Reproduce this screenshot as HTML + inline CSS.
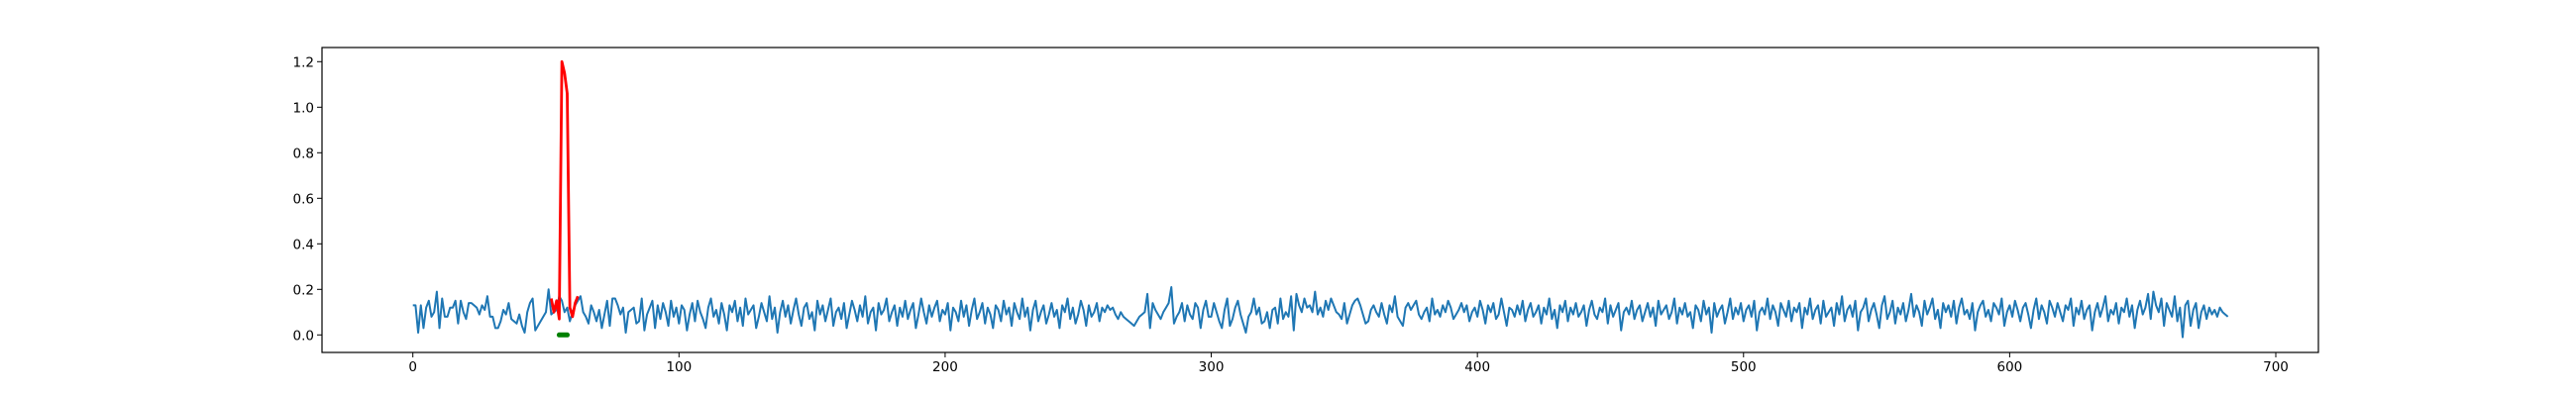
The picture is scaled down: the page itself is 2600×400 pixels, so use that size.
<!DOCTYPE html>
<html><head><meta charset="utf-8"><style>
html,body{margin:0;padding:0;background:#fff;}
svg{display:block;font-family:"DejaVu Sans","Liberation Sans",sans-serif;}
</style></head><body>
<svg id="chart" width="2600" height="400" xmlns="http://www.w3.org/2000/svg">
<rect x="0" y="0" width="2600" height="400" fill="#fff"/>
<g id="plot"></g>
<g id="axes"></g>
</svg>
<script>
const blueValues = [
0.13,0.13,0.01,0.13,0.03,0.12,0.15,0.08,0.10,0.19,0.03,0.16,0.08,0.08,0.12,0.12,0.15,0.05,0.15,0.10,
0.07,0.14,0.14,0.13,0.12,0.09,0.13,0.11,0.17,0.08,0.08,0.03,0.03,0.06,0.11,0.09,0.14,0.07,0.06,0.05,
0.09,0.04,0.01,0.10,0.14,0.16,0.02,0.04,0.06,0.08,0.10,0.20,0.09,0.10,0.11,0.17,0.15,0.10,0.12,0.06,
0.10,0.13,0.15,0.17,0.10,0.08,0.05,0.13,0.10,0.06,0.11,0.03,0.09,0.15,0.04,0.16,0.16,0.13,0.09,0.12,
0.01,0.10,0.11,0.12,0.05,0.06,0.16,0.02,0.09,0.12,0.15,0.03,0.13,0.07,0.14,0.10,0.04,0.15,0.08,0.12,
0.05,0.13,0.11,0.02,0.09,0.14,0.06,0.15,0.10,0.07,0.03,0.12,0.16,0.08,0.11,0.05,0.14,0.09,0.02,0.13,
0.10,0.15,0.06,0.12,0.04,0.16,0.09,0.11,0.13,0.03,0.08,0.14,0.10,0.06,0.17,0.07,0.12,0.01,0.10,0.15,
0.08,0.13,0.05,0.11,0.16,0.09,0.04,0.12,0.14,0.07,0.10,0.02,0.15,0.09,0.13,0.06,0.11,0.16,0.04,0.10,
0.12,0.07,0.14,0.03,0.09,0.15,0.11,0.06,0.13,0.08,0.17,0.05,0.10,0.12,0.02,0.14,0.09,0.11,0.16,0.06,
0.10,0.13,0.04,0.12,0.08,0.15,0.07,0.11,0.14,0.03,0.09,0.16,0.10,0.05,0.13,0.08,0.12,0.15,0.06,0.11,
0.09,0.14,0.02,0.12,0.10,0.06,0.15,0.08,0.13,0.04,0.11,0.16,0.07,0.10,0.14,0.05,0.12,0.09,0.03,0.13,
0.11,0.06,0.15,0.09,0.12,0.04,0.14,0.10,0.07,0.16,0.08,0.12,0.02,0.11,0.15,0.06,0.10,0.13,0.05,0.09,
0.14,0.08,0.11,0.03,0.13,0.10,0.16,0.07,0.12,0.05,0.09,0.15,0.11,0.04,0.13,0.08,0.10,0.14,0.06,0.12,
0.10,0.13,0.11,0.12,0.09,0.07,0.10,0.08,0.07,0.06,0.05,0.04,0.06,0.08,0.09,0.10,0.18,0.03,0.14,0.11,
0.09,0.07,0.10,0.12,0.14,0.21,0.05,0.08,0.10,0.14,0.06,0.13,0.09,0.07,0.14,0.12,0.03,0.11,0.15,0.08,
0.08,0.14,0.10,0.06,0.03,0.11,0.16,0.04,0.07,0.12,0.15,0.09,0.05,0.01,0.08,0.10,0.16,0.09,0.12,0.05,
0.06,0.10,0.03,0.11,0.12,0.05,0.16,0.07,0.10,0.08,0.17,0.02,0.18,0.13,0.10,0.16,0.12,0.13,0.10,0.19,
0.09,0.12,0.08,0.15,0.11,0.16,0.13,0.10,0.09,0.07,0.14,0.05,0.09,0.13,0.15,0.16,0.13,0.09,0.05,0.06,
0.11,0.13,0.10,0.08,0.14,0.09,0.05,0.13,0.10,0.17,0.08,0.06,0.04,0.12,0.14,0.11,0.13,0.15,0.09,0.07,
0.10,0.12,0.06,0.16,0.09,0.11,0.08,0.13,0.10,0.15,0.12,0.07,0.09,0.11,0.14,0.10,0.13,0.06,0.10,0.12,
0.08,0.15,0.11,0.05,0.13,0.10,0.14,0.07,0.09,0.16,0.10,0.04,0.12,0.11,0.08,0.13,0.09,0.15,0.06,0.11,
0.14,0.08,0.10,0.13,0.05,0.12,0.09,0.16,0.07,0.11,0.03,0.13,0.10,0.15,0.06,0.12,0.09,0.14,0.08,0.10,
0.13,0.04,0.11,0.15,0.09,0.07,0.12,0.10,0.16,0.05,0.13,0.08,0.11,0.14,0.02,0.10,0.12,0.09,0.15,0.07,
0.11,0.13,0.06,0.10,0.14,0.08,0.12,0.04,0.15,0.09,0.11,0.13,0.07,0.10,0.16,0.05,0.12,0.09,0.14,0.08,
0.10,0.03,0.13,0.11,0.06,0.15,0.09,0.12,0.01,0.14,0.08,0.11,0.13,0.05,0.10,0.16,0.07,0.12,0.09,0.14,
0.06,0.11,0.13,0.08,0.15,0.02,0.10,0.12,0.09,0.16,0.07,0.13,0.10,0.04,0.14,0.11,0.08,0.15,0.06,0.12,
0.10,0.14,0.03,0.12,0.09,0.16,0.07,0.11,0.13,0.05,0.15,0.08,0.10,0.12,0.04,0.14,0.09,0.17,0.06,0.11,
0.13,0.08,0.15,0.02,0.10,0.12,0.16,0.06,0.11,0.14,0.09,0.03,0.13,0.17,0.07,0.10,0.15,0.05,0.12,0.09,
0.14,0.06,0.11,0.18,0.08,0.13,0.10,0.04,0.15,0.09,0.12,0.16,0.07,0.11,0.03,0.14,0.10,0.13,0.08,0.15,
0.05,0.12,0.16,0.09,0.11,0.07,0.14,0.02,0.10,0.13,0.15,0.08,0.11,0.06,0.14,0.12,0.09,0.16,0.04,0.10,
0.13,0.08,0.15,0.11,0.06,0.12,0.14,0.09,0.03,0.11,0.16,0.07,0.13,0.10,0.05,0.15,0.12,0.08,0.14,0.10,
0.06,0.13,0.11,0.16,0.04,0.12,0.09,0.15,0.07,0.11,0.13,0.02,0.10,0.14,0.08,0.12,0.17,0.06,0.11,0.09,
0.14,0.05,0.12,0.10,0.16,0.08,0.13,0.03,0.11,0.15,0.09,0.12,0.18,0.07,0.19,0.13,0.10,0.16,0.04,0.14,
0.11,0.08,0.17,0.06,0.12,-0.01,0.13,0.15,0.04,0.11,0.14,0.03,0.10,0.13,0.07,0.12,0.09,0.11,0.08,0.12,
0.10,0.09,0.08];
const redX = [52,53,54,55,56,57,58,59,60,61,62];
const redValues = [0.16,0.10,0.15,0.07,1.20,1.15,1.06,0.12,0.08,0.14,0.17];
const greenX = [55,56,57,58];
const greenValues = [0,0,0,0];
const xTicks = [0,100,200,300,400,500,600,700];
const yTicks = [0.0,0.2,0.4,0.6,0.8,1.0,1.2];

const L=325,R=2340,T=48,B=356;
const xScale = v => 416.7 + v*(2297-416.7)/700;
const yScale = v => 338.3 - v*230;
const NS="http://www.w3.org/2000/svg";
const plot=document.getElementById('plot'), axes=document.getElementById('axes');
function mk(tag, attrs, parent){const e=document.createElementNS(NS,tag);for(const k in attrs)e.setAttribute(k,attrs[k]);parent.appendChild(e);return e;}

let d=blueValues.map((v,i)=>(i?'L':'M')+xScale(i).toFixed(2)+','+yScale(v).toFixed(2)).join('');
const blue=mk('path',{d:d,fill:'none',stroke:'#1f77b4','stroke-width':2,'stroke-linejoin':'round'},plot);



d=redValues.map((v,i)=>(i?'L':'M')+xScale(redX[i]).toFixed(2)+','+yScale(v).toFixed(2)).join('');
const red=mk('path',{d:d,fill:'none',stroke:'#ff0000','stroke-width':2.8,'stroke-linejoin':'round'},plot);



d=greenValues.map((v,i)=>(i?'L':'M')+xScale(greenX[i]).toFixed(2)+','+yScale(v).toFixed(2)).join('');
const green=mk('path',{d:d,fill:'none',stroke:'#008000','stroke-width':5,'stroke-linecap':'round'},plot);



const frame=mk('rect',{x:L,y:T,width:R-L,height:B-T,fill:'none',stroke:'#000','stroke-width':1.2},axes);



xTicks.forEach(t=>{
  const x=xScale(t);
  const tk=mk('line',{x1:x,x2:x,y1:B,y2:B+5,stroke:'#000','stroke-width':1},axes);
  
  
  const tx=mk('text',{x:x,y:B+19,'text-anchor':'middle','font-size':13.5,fill:'#000'},axes);
  tx.textContent=String(t);
  
  
});
yTicks.forEach(t=>{
  const y=yScale(t);
  const tk=mk('line',{x1:L-5,x2:L,y1:y,y2:y,stroke:'#000','stroke-width':1},axes);
  
  
  const tx=mk('text',{x:L-8,y:y+5,'text-anchor':'end','font-size':13.5,fill:'#000'},axes);
  tx.textContent=t.toFixed(1);
  
  
});
</script>
</body></html>
